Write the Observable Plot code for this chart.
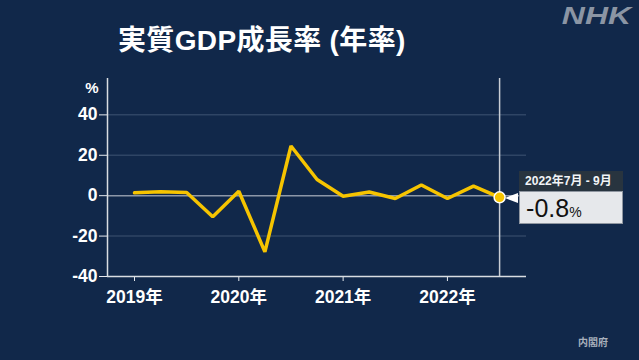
<!DOCTYPE html>
<html>
<head>
<meta charset="utf-8">
<script src="https://cdn.jsdelivr.net/npm/d3@7"></script>
<script src="https://cdn.jsdelivr.net/npm/@observablehq/plot@0.6"></script>
<style>
  html, body { margin: 0; padding: 0; background: #11284a; }
  #wrap { position: relative; width: 639px; height: 360px; overflow: hidden; background: #11284a;
          font-family: "Liberation Sans", "Noto Sans CJK JP", sans-serif; }
  #title { position: absolute; left: 118px; top: 24px; font-size: 28px; line-height: 34px; font-weight: 700;
           color: #ffffff; font-family: "Liberation Sans", "Noto Sans CJK JP", sans-serif; white-space: nowrap; letter-spacing: 0.35px; }
  #logo { position: absolute; right: 8px; top: 2px; font-size: 24px; line-height: 28px; font-weight: 700; font-style: italic;
          color: #8b95a4; font-family: "Liberation Sans", sans-serif; transform: scaleX(1.33); transform-origin: right center; }
  #source { position: absolute; left: 578px; top: 334px; font-size: 10px; font-weight: 700; color: #a8b0bc;
            font-family: "Noto Sans CJK JP", sans-serif; }
  #chart { position: absolute; left: 0; top: 0; }
  #chart svg { overflow: visible; }
  #chart g[aria-label^="x-axis"] text { font-size: 17.5px; font-weight: 700; fill: #ffffff; }
  #chart g[aria-label^="y-axis"] text { font-size: 17.5px; font-weight: 700; fill: #ffffff; }
  .callout-head { position: absolute; background: #28343f; color: #f2f4f6; font-size: 12px; font-weight: 700;
                  line-height: 20px; height: 20px; width: 98px; padding-left: 6px; white-space: nowrap;
                  font-family: "Liberation Sans", "Noto Sans CJK JP", sans-serif; }
  .callout-body { position: absolute; background: #e6e8eb; color: #111; width: 102px; height: 31px;
                  border: 1px solid #8f96a0; white-space: nowrap; }
  .callout-body .v { position: absolute; left: 6px; top: 2px; font-size: 25px; line-height: 28px; font-family: "Liberation Sans", sans-serif; }
  .callout-body .u { font-size: 14px; }
  .callout-tri { position: absolute; width: 0; height: 0; border-top: 5px solid transparent; border-bottom: 5px solid transparent;
                 border-right: 13px solid #ffffff; }
</style>
</head>
<body>
<div id="wrap">
  <div id="title">実質GDP成長率 (年率)</div>
  <div id="logo">NHK</div>
  <div id="chart"></div>
  <div id="source">内閣府</div>
</div>
<script>
// Quarterly real GDP growth (annualized, %)
const quarterYears = [2019, 2019, 2019, 2019, 2020, 2020, 2020, 2020, 2021, 2021, 2021, 2021, 2022, 2022, 2022];
const quarterNums  = [1, 2, 3, 4, 1, 2, 3, 4, 1, 2, 3, 4, 1, 2, 3];
const growth       = [1.4, 2.0, 1.6, -10.4, 2.2, -27.8, 24.6, 8.0, -0.3, 1.8, -1.4, 5.3, -1.4, 4.7, -0.8];
const quarterNames = ["1月 - 3月", "4月 - 6月", "7月 - 9月", "10月 - 12月"];
const yearTicks    = [2019, 2020, 2021, 2022];
const yTicks       = [-40, -20, 0, 20, 40];
const gridValues   = [40, 20, -20];

const data = growth.map((v, i) => ({
  t: quarterYears[i] + (quarterNums[i] - 1) / 4,
  v,
  label: `${quarterYears[i]}年${quarterNames[quarterNums[i] - 1]}`
}));
const last = data[data.length - 1];

const xDomain = [2018.741, 2022.758];
const yDomain = [-40, 58];

const chart = Plot.plot({
  width: 639,
  height: 360,
  marginLeft: 107,
  marginRight: 113,
  marginTop: 78,
  marginBottom: 84,
  style: { background: "transparent", color: "#e6e9ee", fontFamily: "Liberation Sans, Noto Sans CJK JP, sans-serif", overflow: "visible" },
  x: { domain: xDomain, ticks: yearTicks, tickFormat: d => `${d}年`, tickSize: 5, tickPadding: 9, label: null },
  y: { domain: yDomain, ticks: yTicks, tickFormat: d => String(d), tickSize: 8, tickPadding: 2, label: null },
  marks: [
    Plot.ruleY(gridValues, { stroke: "#2f4565", strokeWidth: 1.5 }),
    Plot.ruleY([0], { stroke: "#8d97a8", strokeWidth: 1.5 }),
    Plot.ruleX([xDomain[0]], { stroke: "#d9dde2", strokeWidth: 1.5 }),
    Plot.ruleY([yDomain[0]], { stroke: "#d9dde2", strokeWidth: 1.5 }),
    Plot.ruleX([last.t], { stroke: "#c9ced5", strokeWidth: 1.5 }),
    Plot.line(data, { x: "t", y: "v", stroke: "#f6c400", strokeWidth: 3.5, strokeLinejoin: "miter" }),
    Plot.dot([last], { x: "t", y: "v", r: 5.5, fill: "#f6c400", stroke: "#ffffff", strokeWidth: 1.5 }),
    Plot.text(["%"], { frameAnchor: "top-left", textAnchor: "end", dx: -9, dy: 4, fontSize: 15, fontWeight: "bold", fill: "#ffffff" })
  ]
});
document.getElementById("chart").appendChild(chart);

// Callout anchored to the last point via the chart's own scales
const px = chart.scale("x").apply(last.t);
const py = chart.scale("y").apply(last.v);
const wrap = document.getElementById("wrap");

const tri = document.createElement("div");
tri.className = "callout-tri";
tri.style.left = (px + 6) + "px";
tri.style.top = (py - 4) + "px";
wrap.appendChild(tri);

const head = document.createElement("div");
head.className = "callout-head";
head.style.left = (px + 20) + "px";
head.style.top = (py - 26) + "px";
head.textContent = last.label;
wrap.appendChild(head);

const body = document.createElement("div");
body.className = "callout-body";
body.style.left = (px + 20) + "px";
body.style.top = (py - 6) + "px";
body.innerHTML = `<span class="v">${String(last.v)}<span class="u">%</span></span>`;
wrap.appendChild(body);
</script>
</body>
</html>
